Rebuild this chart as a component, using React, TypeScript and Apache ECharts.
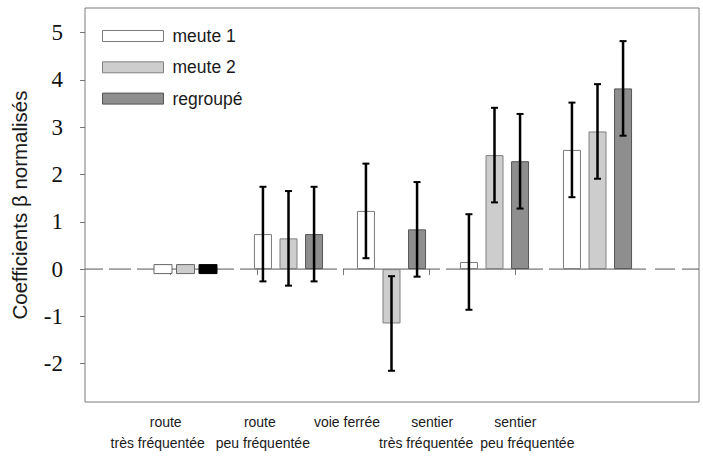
import React, { useEffect, useRef } from 'react';
import * as echarts from 'echarts';

// ---- data ----
const categories = [
  'route\ntrès fréquentée',
  'route\npeu fréquentée',
  'voie ferrée',
  'sentier\ntrès fréquentée',
  'sentier\npeu fréquentée',
];
const seriesNames = ['meute 1', 'meute 2', 'regroupé'];
const meute1 = [null, 0.74, 1.23, 0.15, 2.52];
const meute2 = [null, 0.65, -1.15, 2.41, 2.91];
const regroupe = [null, 0.74, 0.84, 2.28, 3.82];
const errMeute1 = [null, 1.0, 1.0, 1.01, 1.0];
const errMeute2 = [null, 1.0, 1.0, 1.0, 1.0];
const errRegroupe = [null, 1.0, 1.0, 1.0, 1.0];
// categories where coefficients were not estimated (drawn as small boxes on 0)
const notEstimated = [0];
const yTicks = [-2, -1, 0, 1, 2, 3, 4, 5];

// ---- layout / style ----
const W = 703, H = 457;
const FRAME_L = 85, FRAME_R = 699, FRAME_T = 8, FRAME_B = 402;
const BARS_L = 134, BARS_R = 649;
const LABELS_L = 127.6, LABELS_R = 558.4;
const Y_MIN = -2.81, Y_MAX = 5.52;
const BAR_W = 18, BAR_GAP = 0.42;
const PITCH = BAR_W * (1 + BAR_GAP);
const fills = ['#ffffff', '#cdcdcd', '#8e8e8e'];
const borders = ['#7a7a7a', '#808080', '#555555'];
const placeholderFills = ['#ffffff', '#cdcdcd', '#000000'];
const placeholderBorders = ['#666666', '#666666', '#000000'];
// horizontal nudges (px) of each label line relative to its tick
const labelLineShift = [[-5, -13], [3, 6], [4], [3, -3], [0, 12]];

const values = [meute1, meute2, regroupe];
const errors = [errMeute1, errMeute2, errRegroupe];

export default function App() {
  const ref = useRef<HTMLDivElement>(null);
  useEffect(() => {
    if (!ref.current) return;
    const chart = echarts.init(ref.current, null, { renderer: 'svg' });

    const errData: number[][] = [];
    values.forEach((arr, s) => {
      arr.forEach((v, i) => {
        const e = errors[s][i];
        if (v !== null && e !== null) errData.push([i, v as number, s, e as number]);
      });
    });
    const phData: number[][] = [];
    notEstimated.forEach((i) => {
      for (let s = 0; s < 3; s++) phData.push([i, 0, s]);
    });

    const labelFont = { fontFamily: 'Liberation Sans, Arial, sans-serif', fontSize: 14, lineHeight: 21, color: '#1a1a1a' };
    const rich: any = {};
    labelLineShift.forEach((shifts, i) => {
      shifts.forEach((d, j) => {
        rich[`c${i}l${j}`] = {
          ...labelFont,
          padding: d >= 0 ? [0, 0, 0, 2 * d] : [0, -2 * d, 0, 0],
        };
      });
    });

    const option: any = {
      animation: false,
      backgroundColor: '#ffffff',
      grid: [
        {
          left: FRAME_L, right: W - FRAME_R, top: FRAME_T, bottom: H - FRAME_B,
          show: true, borderColor: '#7a7a7a', borderWidth: 1, backgroundColor: 'transparent',
        },
        { left: BARS_L, right: W - BARS_R, top: FRAME_T, bottom: H - FRAME_B },
        { left: LABELS_L, right: W - LABELS_R, top: FRAME_T, bottom: H - FRAME_B },
      ],
      xAxis: [
        {
          type: 'value', gridIndex: 0, min: 0, max: 1, show: false,
        },
        {
          type: 'category', gridIndex: 1, data: categories,
          axisLine: { show: false }, axisTick: { show: false }, axisLabel: { show: false },
        },
        {
          type: 'category', gridIndex: 2, data: categories,
          axisLine: { show: false },
          axisTick: { show: true, alignWithLabel: true, interval: 0, length: 6, lineStyle: { color: '#777' } },
          axisLabel: {
            interval: 0,
            ...labelFont,
            margin: 9,
            formatter: (value: string, idx: number) =>
              value.split('\n').map((t, j) => `{c${idx}l${j}|${t}}`).join('\n'),
            rich,
          },
        },
      ],
      yAxis: [
        {
          type: 'value', gridIndex: 0, min: Y_MIN, max: Y_MAX,
          axisLine: { show: false },
          splitLine: { show: false },
          axisTick: { show: true, customValues: yTicks, length: 5, lineStyle: { color: '#777' } },
          axisLabel: {
            customValues: yTicks,
            showMinLabel: true, showMaxLabel: true,
            fontFamily: 'Liberation Serif, Times New Roman, serif',
            fontSize: 23, color: '#111', margin: 22,
          },
          name: 'Coefficients β normalisés',
          nameLocation: 'middle', nameRotate: 90, nameGap: 55,
          nameTextStyle: { fontFamily: 'Liberation Sans, Arial, sans-serif', fontSize: 20.5, color: '#1a1a1a' },
        },
        {
          type: 'value', gridIndex: 1, min: Y_MIN, max: Y_MAX, show: false,
          splitLine: { show: false },
        },
        {
          type: 'value', gridIndex: 2, min: Y_MIN, max: Y_MAX, show: false,
          splitLine: { show: false },
        },
      ],
      legend: {
        orient: 'vertical', left: 102, top: 27, padding: 0,
        itemWidth: 61, itemHeight: 11, itemGap: 13.3,
        icon: 'rect',
        itemStyle: { borderWidth: 1 },
        textStyle: { fontFamily: 'Liberation Sans, Arial, sans-serif', fontSize: 17.5, lineHeight: 16, color: '#1a1a1a', padding: [0, 0, 0, 4] },
        data: seriesNames,
      },
      series: [
        // zero reference line
        {
          type: 'custom', xAxisIndex: 1, yAxisIndex: 1, z: 1, silent: true,
          data: categories.map((_, i) => [i, 0]),
          encode: { x: 0, y: 1 },
          renderItem: (params: any, api: any) => {
            const i = api.value(0);
            const c = api.coord([i, 0]);
            const band = api.size([1, 0])[0];
            const style = { stroke: '#555', lineWidth: 1 };
            const children: any[] = [
              { type: 'line', shape: { x1: c[0] - band / 2 + 3, y1: c[1], x2: c[0] + band / 2 - 3, y2: c[1] }, style },
            ];
            if (i === 0) {
              children.push({ type: 'line', shape: { x1: c[0] - band / 2 - 3, y1: c[1], x2: FRAME_L, y2: c[1] }, style: { ...style, lineDash: [22, 6] } });
            }
            if (i === categories.length - 1) {
              children.push({ type: 'line', shape: { x1: c[0] + band / 2 + 6, y1: c[1], x2: FRAME_R, y2: c[1] }, style: { ...style, lineDash: [20, 7] } });
            }
            return { type: 'group', children };
          },
        },
        ...seriesNames.map((name, s) => ({
          type: 'bar', name, xAxisIndex: 1, yAxisIndex: 1, z: 2,
          data: values[s],
          barWidth: BAR_W, barGap: `${BAR_GAP * 100}%`,
          itemStyle: { color: fills[s], borderColor: borders[s], borderWidth: 1 },
        })),
        // not-estimated placeholder boxes
        {
          type: 'custom', xAxisIndex: 1, yAxisIndex: 1, z: 3, silent: true,
          data: phData, encode: { x: 0, y: 1 },
          renderItem: (params: any, api: any) => {
            const i = api.value(0);
            const s = api.value(2);
            const c = api.coord([i, 0]);
            const top = api.coord([i, 0.095])[1];
            const bot = api.coord([i, -0.095])[1];
            const x = c[0] + (s - 1) * 22.5 - BAR_W / 2;
            return {
              type: 'rect',
              shape: { x, y: top, width: BAR_W, height: bot - top },
              style: { fill: placeholderFills[s], stroke: placeholderBorders[s], lineWidth: 1 },
            };
          },
        },
        // error bars
        {
          type: 'custom', xAxisIndex: 1, yAxisIndex: 1, z: 4, silent: true,
          data: errData, encode: { x: 0, y: 1 },
          renderItem: (params: any, api: any) => {
            const i = api.value(0);
            const v = api.value(1);
            const s = api.value(2);
            const e = api.value(3);
            const c = api.coord([i, v]);
            const x = c[0] + (s - 1) * PITCH;
            const yTop = api.coord([i, v + e])[1];
            const yBot = api.coord([i, v - e])[1];
            const st = { stroke: '#000', lineWidth: 2.5 };
            return {
              type: 'group',
              children: [
                { type: 'line', shape: { x1: x, y1: yTop, x2: x, y2: yBot }, style: st },
                { type: 'line', shape: { x1: x - 3.5, y1: yTop, x2: x + 3.5, y2: yTop }, style: { stroke: '#000', lineWidth: 2 } },
                { type: 'line', shape: { x1: x - 3.5, y1: yBot, x2: x + 3.5, y2: yBot }, style: { stroke: '#000', lineWidth: 2 } },
              ],
            };
          },
        },
      ],
    };
    chart.setOption(option);
    return () => chart.dispose();
  }, []);
  return <div ref={ref} style={{ position: 'fixed', left: 0, top: 0, width: W, height: H }} />;
}
